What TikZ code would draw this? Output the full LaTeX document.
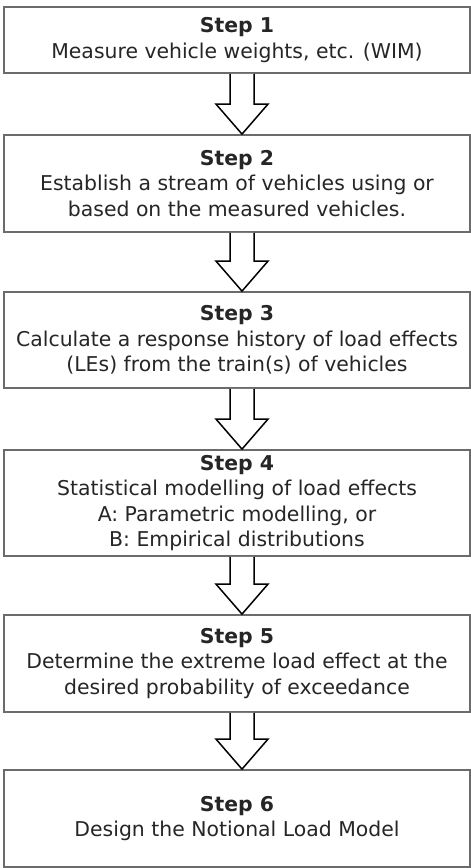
\documentclass[tikz,border=0pt]{standalone}
\usepackage{fontspec}
\setmainfont{DejaVu Sans}
\usepackage{tikz}
\usetikzlibrary{calc, positioning}

% hollow block arrow from the bottom of one step box to the top of the next
\newcommand{\steparrow}[2]{%
  \path ($(#2.north)+(5,0)$) coordinate (tip)
        ($(#1.south)+(5,0)$) coordinate (tail);
  \draw[hollow] ($(tail)+(-12,0)$) -- ($(tip)+(-12,-30)$) -- ($(tip)+(-26,-30)$)
    -- (tip) -- ($(tip)+(26,-30)$) -- ($(tip)+(12,-30)$) -- ($(tail)+(12,0)$);
}

\begin{document}
\begin{tikzpicture}[x=1pt, y=-1pt,
  stepbox/.style={draw=black!58, line width=1.8pt, fill=white, minimum width=466pt,
                  inner sep=0pt, align=center, text=black!85,
                  font=\fontsize{20.4}{25.5}\selectfont},
  hollow/.style={draw=black, line width=1.5pt, fill=white, line join=miter}]
  \useasboundingbox (0,0) rectangle (471,868);

  % Steps
  \node[stepbox, minimum height=66pt] (s1) at (237,40)
    {\textbf{Step 1}\\Measure vehicle weights, etc. (WIM)};
  \node[stepbox, minimum height=97pt] (s2) at (237,183.5)
    {\textbf{Step 2}\\Establish a stream of vehicles using or\\based on the measured vehicles.};
  \node[stepbox, minimum height=96pt] (s3) at (237,340)
    {\textbf{Step 3}\\Calculate a response history of load effects\\(LEs) from the train(s) of vehicles};
  \node[stepbox, minimum height=106pt] (s4) at (237,503)
    {\textbf{Step 4}\\Statistical modelling of load effects\\A: Parametric modelling, or\\B: Empirical distributions};
  \node[stepbox, minimum height=97pt] (s5) at (237,663.5)
    {\textbf{Step 5}\\Determine the extreme load effect at the\\desired probability of exceedance};
  \node[stepbox, minimum height=97pt] (s6) at (237,818.5)
    {\textbf{Step 6}\\Design the Notional Load Model};

  % Arrows between steps
  \steparrow{s1}{s2}
  \steparrow{s2}{s3}
  \steparrow{s3}{s4}
  \steparrow{s4}{s5}
  \steparrow{s5}{s6}
\end{tikzpicture}
\end{document}
